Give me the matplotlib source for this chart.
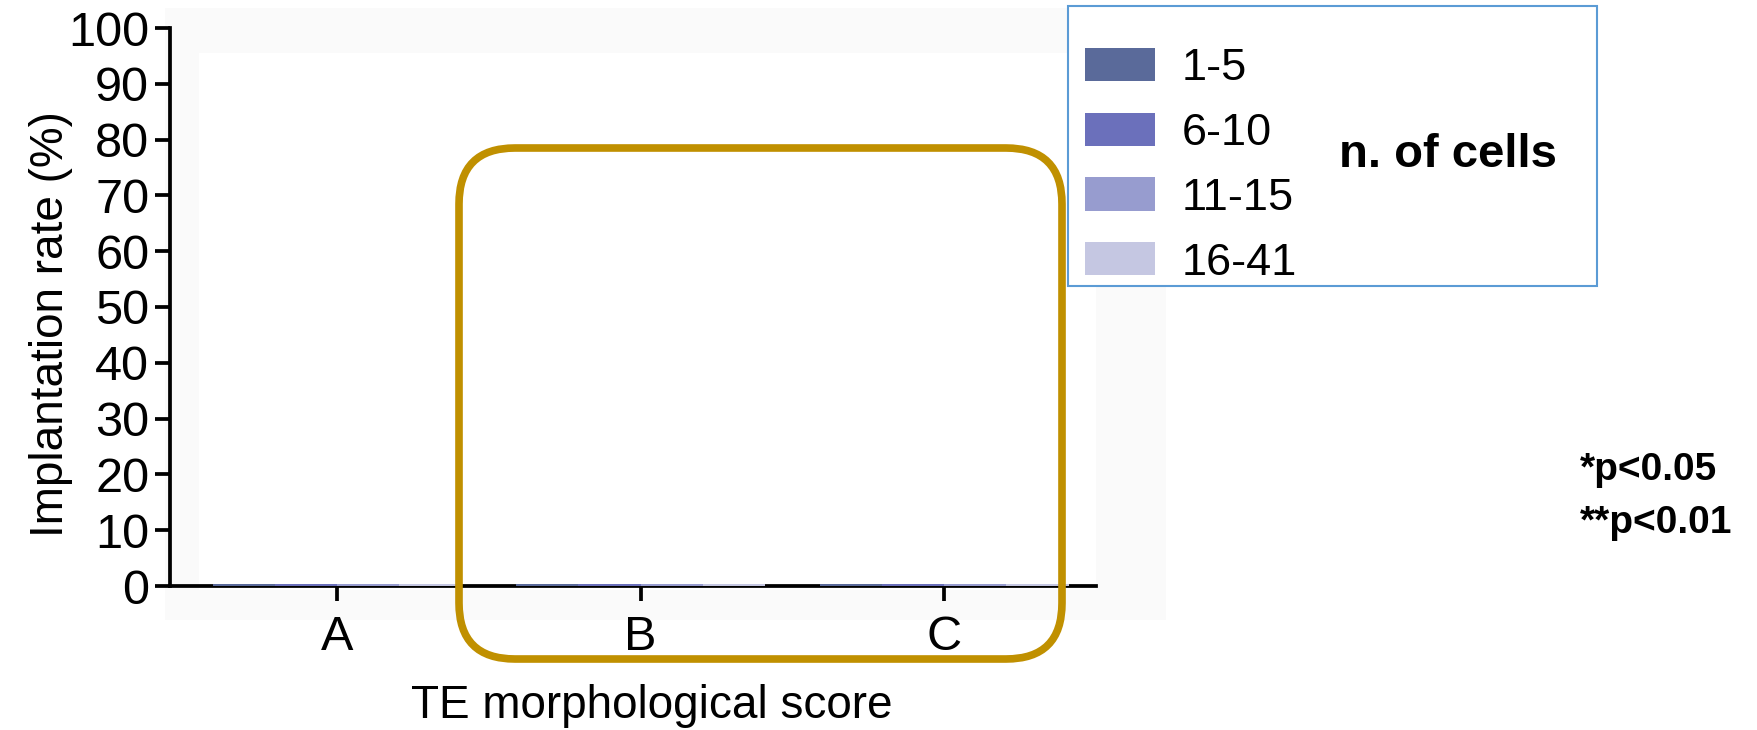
import numpy as np
import matplotlib
matplotlib.use('Agg')
import matplotlib.pyplot as plt
from matplotlib.patches import FancyBboxPatch, Rectangle

plt.rcParams['font.family'] = ['Liberation Sans', 'DejaVu Sans']

# data
categories = ['A', 'B', 'C']
groups = ['1-5', '6-10', '11-15', '16-41']
rate_1_5 = [0.4, 0.4, 0.4]
rate_6_10 = [0.4, 0.4, 0.4]
rate_11_15 = [0.4, 0.4, 0.4]
rate_16_41 = [0.4, 0.4, 0.4]
colors = ['#5a6a9a', '#6b70bb', '#979ccf', '#c5c7e2']

W, H = 1757, 730
fig = plt.figure(figsize=(W / 100, H / 100), dpi=100)

# faint grey background of the pasted graph
fig.patches.append(Rectangle((165 / W, 1 - 620 / H), (1166 - 165) / W, (620 - 8) / H,
                             transform=fig.transFigure, facecolor='#fafafa', edgecolor='none', zorder=-2))
fig.patches.append(Rectangle((199 / W, 1 - 590 / H), (1096 - 199) / W, (590 - 53) / H,
                             transform=fig.transFigure, facecolor='white', edgecolor='none', zorder=-1))
# legend box
fig.patches.append(Rectangle((1068 / W, 1 - 286 / H), (1597 - 1068) / W, (286 - 6) / H,
                             transform=fig.transFigure, facecolor='white',
                             edgecolor='#5b9bd5', linewidth=1.5, zorder=0))

ax = fig.add_axes([170 / W, 1 - 586 / H, (1096 - 170) / W, (586 - 28) / H])
ax.set_zorder(1)
ax.patch.set_alpha(0)

x = np.arange(len(categories))
bw = 0.205
series = [rate_1_5, rate_6_10, rate_11_15, rate_16_41]
for i, vals in enumerate(series):
    ax.bar(x + (i - 1.5) * bw, vals, bw, color=colors[i], label=groups[i], zorder=3)

ax.set_xlim(-0.55, 2.5)
ax.set_ylim(0, 100)
ax.set_yticks(np.arange(0, 101, 10))
ax.set_xticks(x)
ax.set_xticklabels(categories)
for s in ['top', 'right']:
    ax.spines[s].set_visible(False)
for s in ['left', 'bottom']:
    ax.spines[s].set_linewidth(2.7)
ax.tick_params(axis='both', width=2.7, length=11, labelsize=35)
ax.tick_params(axis='y', pad=4)
ax.tick_params(axis='x', pad=10)
ax.set_ylabel('Implantation rate (%)', fontsize=33, va='center')
ax.yaxis.set_label_coords(-0.128, 0.47)
ax.set_xlabel('TE morphological score', fontsize=33, va='center')
ax.xaxis.set_label_coords(0.52, -0.215)

leg = ax.legend(loc='upper left', bbox_to_anchor=(1085 / W, 1 - 48 / H),
                bbox_transform=fig.transFigure, frameon=False, fontsize=32.5,
                handlelength=1.55, handleheight=0.75, handletextpad=0.6,
                labelspacing=0.52, borderpad=0, borderaxespad=0)

# highlight box around B and C
fig.patches.append(FancyBboxPatch((459, H - 659), 603, 511,
                                  boxstyle='round,pad=0,rounding_size=56',
                                  transform=None, facecolor='none',
                                  edgecolor='#c09000', linewidth=5.5, zorder=5))

fig.text(1339 / W, 1 - 155 / H, 'n. of cells', fontsize=34, fontweight='bold',
         va='center', ha='left', zorder=7)
fig.text(1580 / W, 1 - 470 / H, '*p<0.05', fontsize=28, fontweight='bold',
         va='center', ha='left')
fig.text(1580 / W, 1 - 523 / H, '**p<0.01', fontsize=28, fontweight='bold',
         va='center', ha='left')

fig.savefig('out.png', dpi=100, facecolor='white')
